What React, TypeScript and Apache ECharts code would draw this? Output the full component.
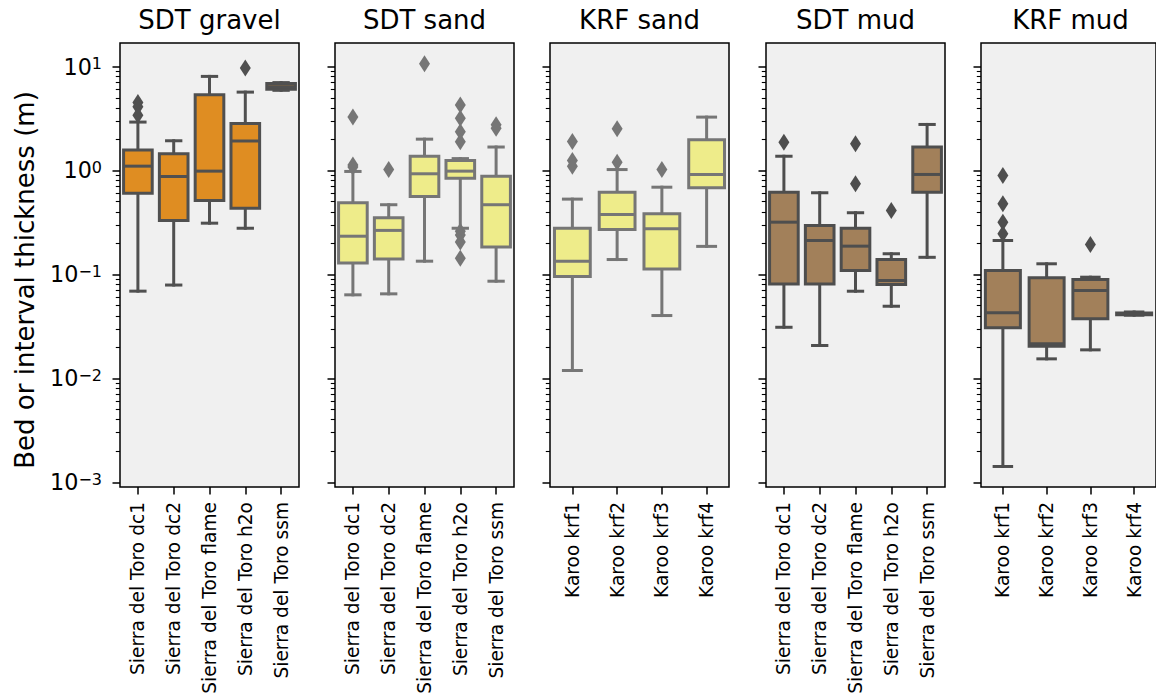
import React, { useEffect, useRef } from 'react';
import * as echarts from 'echarts';

// ---------- data ----------
const panelTitles = ['SDT gravel', 'SDT sand', 'KRF sand', 'SDT mud', 'KRF mud'];
const sdtCategories = [
  'Sierra del Toro dc1',
  'Sierra del Toro dc2',
  'Sierra del Toro flame',
  'Sierra del Toro h2o',
  'Sierra del Toro ssm',
];
const krfCategories = ['Karoo krf1', 'Karoo krf2', 'Karoo krf3', 'Karoo krf4'];

// [min whisker, Q1, median, Q3, max whisker]
const sdtGravelBoxes = [
  [0.069, 0.605, 1.1, 1.57, 2.92],
  [0.079, 0.33, 0.875, 1.45, 1.93],
  [0.311, 0.514, 0.985, 5.35, 8.03],
  [0.278, 0.434, 1.92, 2.83, 5.67],
  [5.9, 6.05, 6.4, 6.85, 7.0],
];
const sdtGravelOutliers = [[0, 4.5], [0, 4.1], [0, 3.4], [3, 9.65]];

const sdtSandBoxes = [
  [0.0636, 0.129, 0.233, 0.489, 0.978],
  [0.065, 0.141, 0.265, 0.351, 0.468],
  [0.134, 0.562, 0.929, 1.37, 2.0],
  [0.278, 0.843, 0.985, 1.25, 1.3],
  [0.086, 0.183, 0.468, 0.881, 1.68],
];
const sdtSandOutliers = [
  [0, 3.26], [0, 1.13], [0, 1.08],
  [1, 1.02],
  [2, 10.6],
  [3, 4.26], [3, 3.17], [3, 2.36], [3, 1.89], [3, 0.26], [3, 0.24], [3, 0.205], [3, 0.143],
  [4, 2.75], [4, 2.55],
];

const krfSandBoxes = [
  [0.0119, 0.0955, 0.134, 0.278, 0.53],
  [0.139, 0.27, 0.377, 0.618, 1.02],
  [0.0402, 0.113, 0.275, 0.383, 0.69],
  [0.186, 0.681, 0.915, 1.97, 3.26],
];
const krfSandOutliers = [[0, 1.9], [0, 1.25], [0, 1.1], [1, 2.52], [1, 1.2], [2, 1.02]];

const sdtMudBoxes = [
  [0.031, 0.081, 0.318, 0.618, 1.37],
  [0.0207, 0.081, 0.212, 0.296, 0.61],
  [0.0689, 0.109, 0.187, 0.278, 0.392],
  [0.0494, 0.08, 0.0874, 0.139, 0.158],
  [0.146, 0.618, 0.915, 1.68, 2.77],
];
const sdtMudOutliers = [[0, 1.87], [2, 1.81], [2, 0.745], [3, 0.412]];

const krfMudBoxes = [
  [0.00142, 0.0306, 0.0427, 0.109, 0.212],
  [0.0154, 0.0204, 0.0215, 0.0927, 0.1265],
  [0.0188, 0.0374, 0.07, 0.0893, 0.094],
  [0.0405, 0.041, 0.0418, 0.0425, 0.0435],
];
const krfMudOutliers = [[0, 0.895], [0, 0.478], [0, 0.318], [0, 0.246], [2, 0.194]];

const yTickValues = [0.001, 0.01, 0.1, 1, 10];
const yTickExponents = ['\u22123', '\u22122', '\u22121', '0', '1'];
const yAxisTitle = 'Bed or interval thickness (m)';

// ---------- styling / layout ----------
const FONT = 'DejaVu Sans';
const panelFills = ['#df8d22', '#eeec8a', '#eeec8a', '#a2805a', '#a2805a'];
const panelStrokes = ['#505050', '#767676', '#767676', '#4e4e4e', '#4e4e4e'];
const panelLefts = [120, 335, 550, 766, 981];
const PANEL_W = 179;
const PLOT_TOP = 43;
const PLOT_BOTTOM = 487;
const TICK_TOP = 66.5; // pixel of 10^1
const TICK_BOTTOM = 482.3; // pixel of 10^-3
const DECADE = (TICK_BOTTOM - TICK_TOP) / 4;
const dataMin = Math.pow(10, -3 - (PLOT_BOTTOM - TICK_BOTTOM) / DECADE);
const dataMax = Math.pow(10, 1 + (TICK_TOP - PLOT_TOP) / DECADE);

const panels = [
  { cats: sdtCategories, boxes: sdtGravelBoxes, outliers: sdtGravelOutliers },
  { cats: sdtCategories, boxes: sdtSandBoxes, outliers: sdtSandOutliers },
  { cats: krfCategories, boxes: krfSandBoxes, outliers: krfSandOutliers },
  { cats: sdtCategories, boxes: sdtMudBoxes, outliers: sdtMudOutliers },
  { cats: krfCategories, boxes: krfMudBoxes, outliers: krfMudOutliers },
];

function makeRenderItem(fill: string, stroke: string) {
  return (params: any, api: any) => {
    const x = api.value(0);
    const v = [1, 2, 3, 4, 5].map((i) => api.value(i));
    const band = api.size([1, 1])[0];
    const w = band * 0.8;
    const cw = w * 0.5;
    const pMin = api.coord([x, v[0]]);
    const pQ1 = api.coord([x, v[1]]);
    const pMed = api.coord([x, v[2]]);
    const pQ3 = api.coord([x, v[3]]);
    const pMax = api.coord([x, v[4]]);
    const cx = pMed[0];
    const lw = 3;
    const ls = { stroke, lineWidth: lw, lineCap: 'square' };
    return {
      type: 'group',
      children: [
        { type: 'line', shape: { x1: cx, y1: pQ1[1], x2: cx, y2: pMin[1] }, style: ls },
        { type: 'line', shape: { x1: cx, y1: pQ3[1], x2: cx, y2: pMax[1] }, style: ls },
        { type: 'line', shape: { x1: cx - cw / 2, y1: pMin[1], x2: cx + cw / 2, y2: pMin[1] }, style: ls },
        { type: 'line', shape: { x1: cx - cw / 2, y1: pMax[1], x2: cx + cw / 2, y2: pMax[1] }, style: ls },
        {
          type: 'rect',
          shape: { x: cx - w / 2, y: pQ3[1], width: w, height: pQ1[1] - pQ3[1] },
          style: { fill, stroke, lineWidth: lw, lineJoin: 'miter' },
        },
        { type: 'line', shape: { x1: cx - w / 2, y1: pMed[1], x2: cx + w / 2, y2: pMed[1] }, style: { stroke, lineWidth: lw } },
      ],
    };
  };
}

function tickLabel(v: number) {
  let best = 0;
  for (let i = 0; i < yTickValues.length; i++) {
    if (Math.abs(Math.log10(yTickValues[i]) - Math.log10(v)) < Math.abs(Math.log10(yTickValues[best]) - Math.log10(v))) best = i;
  }
  if (Math.abs(Math.log10(yTickValues[best]) - Math.log10(v)) > 0.01) return '';
  return '{b|10}{s|' + yTickExponents[best] + '}';
}

function buildOption() {
  const grid: any[] = [];
  const xAxis: any[] = [];
  const yAxis: any[] = [];
  const series: any[] = [];
  const graphic: any[] = [];

  panels.forEach((p, i) => {
    const left = panelLefts[i];
    // data grid
    grid.push({
      left,
      top: PLOT_TOP,
      width: PANEL_W,
      height: PLOT_BOTTOM - PLOT_TOP,
      show: true,
      backgroundColor: '#f0f0f0',
      borderColor: '#000',
      borderWidth: 1.5,
      containLabel: false,
    });
    // tick grid
    grid.push({
      left,
      top: TICK_TOP,
      width: PANEL_W,
      height: TICK_BOTTOM - TICK_TOP,
      show: false,
      containLabel: false,
    });
    xAxis.push({
      type: 'category',
      gridIndex: 2 * i,
      data: p.cats,
      boundaryGap: true,
      axisLine: { show: false },
      axisTick: { show: true, alignWithLabel: true, length: 7.5, lineStyle: { color: '#000', width: 1.5 } },
      axisLabel: { rotate: 90, interval: 0, fontSize: 18.6, fontFamily: FONT, color: '#000', margin: 15 },
      splitLine: { show: false },
    });
    xAxis.push({ type: 'value', gridIndex: 2 * i + 1, min: 0, max: 1, show: false });
    yAxis.push({
      type: 'log',
      logBase: 10,
      gridIndex: 2 * i,
      min: dataMin,
      max: dataMax,
      show: false,
      splitLine: { show: false },
    });
    yAxis.push({
      type: 'log',
      logBase: 10,
      gridIndex: 2 * i + 1,
      min: yTickValues[0],
      max: yTickValues[yTickValues.length - 1],
      splitNumber: 4,
      axisLine: { show: false },
      axisTick: { show: true, length: 7.5, lineStyle: { color: '#000', width: 1.5 } },
      minorTick: { show: true, splitNumber: 9, length: 4.2, lineStyle: { color: '#000', width: 1.1 } },
      splitLine: { show: false },
      minorSplitLine: { show: false },
      axisLabel: {
        show: i === 0,
        margin: 18,
        formatter: (v: number) => tickLabel(v),
        rich: {
          b: { fontSize: 22.3, fontFamily: FONT, color: '#000' },
          s: { fontSize: 16, fontFamily: FONT, color: '#000', verticalAlign: 'top' },
        },
      },
    });
    series.push({
      type: 'custom',
      xAxisIndex: 2 * i,
      yAxisIndex: 2 * i,
      renderItem: makeRenderItem(panelFills[i], panelStrokes[i]),
      encode: { x: 0, y: [1, 2, 3, 4, 5] },
      data: p.boxes.map((b, k) => [k, ...b]),
      z: 3,
    });
    series.push({
      type: 'scatter',
      xAxisIndex: 2 * i,
      yAxisIndex: 2 * i,
      symbol: 'diamond',
      symbolSize: [11, 17],
      itemStyle: { color: panelStrokes[i], opacity: 1 },
      data: p.outliers,
      z: 4,
    });
    graphic.push({
      type: 'text',
      x: left + PANEL_W / 2,
      y: 20,
      style: {
        text: panelTitles[i],
        fontSize: 26,
        fontFamily: FONT,
        fill: '#000',
        align: 'center',
        verticalAlign: 'middle',
        textAlign: 'center',
        textVerticalAlign: 'middle',
      },
    });
  });

  graphic.push({
    type: 'text',
    x: 25,
    y: 280,
    rotation: Math.PI / 2,
    style: {
      text: yAxisTitle,
      fontSize: 26,
      fontFamily: FONT,
      fill: '#000',
      align: 'center',
      verticalAlign: 'middle',
      textAlign: 'center',
      textVerticalAlign: 'middle',
    },
  });

  return {
    animation: false,
    backgroundColor: '#ffffff',
    textStyle: { fontFamily: FONT },
    grid,
    xAxis,
    yAxis,
    series,
    graphic,
  };
}

export default function App() {
  const ref = useRef<HTMLDivElement>(null);
  useEffect(() => {
    if (!ref.current) return;
    const chart = echarts.init(ref.current, undefined, { renderer: 'svg' });
    chart.setOption(buildOption() as any);
    return () => chart.dispose();
  }, []);
  return (
    <div
      ref={ref}
      style={{ position: 'absolute', left: 0, top: 0, width: 1156, height: 698 }}
    />
  );
}
